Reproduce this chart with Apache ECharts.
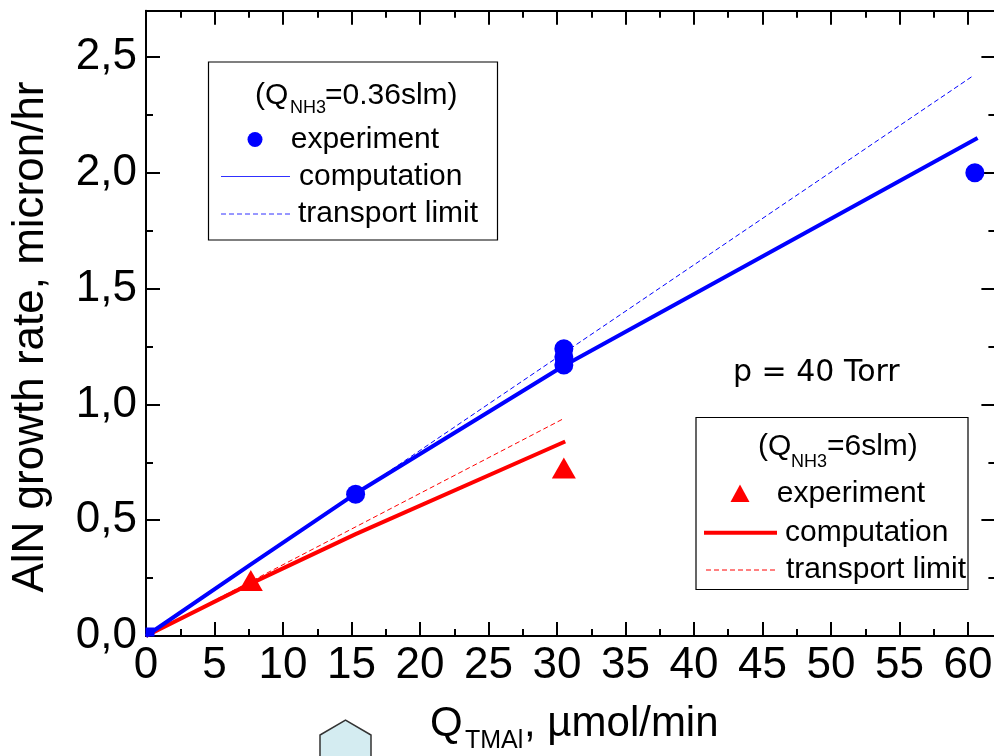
<!DOCTYPE html>
<html><head><meta charset="utf-8">
<script src="https://cdn.jsdelivr.net/npm/echarts@6/dist/echarts.min.js"></script>
<style>html,body{margin:0;padding:0;background:#fff}#c{width:994px;height:756px}</style>
</head><body><div id="c"></div><script>
// ---- data ----
const blueExpX = [0, 15.3, 30.5, 30.5, 30.5, 60.5];
const blueExpY = [0, 0.612, 1.17, 1.205, 1.24, 2.0];
const blueCompX = [0, 7.6, 15.3, 30.5, 60.7];
const blueCompY = [0, 0.307, 0.615, 1.167, 2.15];
const blueLimX = [0, 60.4];
const blueLimY = [0, 2.42];
const redExpX = [7.65, 30.5];
const redExpY = [0.24, 0.725];
const redCompX = [0, 7.6, 15.3, 30.6];
const redCompY = [0, 0.225, 0.44, 0.84];
const redLimX = [0, 30.4];
const redLimY = [0, 0.936];
const xTickStep = 5, yTickStep = 0.5;
const xMax = 62, yMax = 2.7;

const pairs = (xs, ys) => xs.map((x, i) => [x, ys[i]]);
const F = '"Liberation Sans", Arial, Helvetica, sans-serif';
const BLUE = '#0000ff', RED = '#ff0000';

function xAxisDef(pos, minor, labels) {
  return {
    type: 'value', min: 0, max: xMax, interval: minor ? xTickStep / 2 : xTickStep, position: pos,
    axisLine: { show: !minor, onZero: false, lineStyle: { color: '#000', width: 2 } },
    axisTick: { show: true, inside: true, length: minor ? 7 : 14, lineStyle: { color: '#000', width: 2 } },
    axisLabel: { show: labels, fontSize: 44, color: '#000', fontFamily: F, margin: 8, showMaxLabel: false, showMinLabel: true },
    splitLine: { show: false }, minorTick: { show: false }
  };
}
function yAxisDef(pos, minor, labels) {
  return {
    type: 'value', min: 0, max: yMax, interval: minor ? yTickStep / 2 : yTickStep, position: pos,
    axisLine: { show: !minor, onZero: false, lineStyle: { color: '#000', width: 2 } },
    axisTick: { show: true, inside: true, length: minor ? 7 : 14, lineStyle: { color: '#000', width: 2 } },
    axisLabel: { show: labels, fontSize: 44, color: '#000', fontFamily: F, margin: 9, showMaxLabel: false,
      formatter: v => v.toFixed(1).replace('.', ',') },
    splitLine: { show: false }, minorTick: { show: false }
  };
}

function txt(text, x, y, size, opts) {
  opts = opts || {};
  return {
    type: 'text', x: x, y: y, rotation: opts.rotation || 0, z: 100,
    style: { text: text, fill: '#000', fontSize: size, fontFamily: opts.family || F,
      align: opts.align || 'left', verticalAlign: 'middle',
      textAlign: opts.align || 'left', textVerticalAlign: 'middle' }
  };
}

const graphics = [
  // legend box 1
  { type: 'rect', z: 90, shape: { x: 208.5, y: 62, width: 289, height: 178 }, style: { fill: '#fff', stroke: '#000', lineWidth: 1.2 } },
  txt('(Q', 255, 96, 30), txt('NH3', 290, 108, 18), txt('=0.36slm)', 325, 96, 30),
  { type: 'circle', z: 100, shape: { cx: 255, cy: 139.5, r: 7.5 }, style: { fill: BLUE } },
  txt('experiment', 290.7, 140, 30),
  { type: 'line', z: 100, shape: { x1: 221, y1: 176.5, x2: 290, y2: 176.5 }, style: { stroke: '#3030ff', lineWidth: 1.2 } },
  txt('computation', 299, 177, 30),
  { type: 'line', z: 100, shape: { x1: 221, y1: 214, x2: 290, y2: 214 }, style: { stroke: '#3030ff', lineWidth: 1, lineDash: [5, 3] } },
  txt('transport limit', 298, 214, 30),
  // legend box 2
  { type: 'rect', z: 90, shape: { x: 696, y: 417.5, width: 272, height: 172 }, style: { fill: '#fff', stroke: '#000', lineWidth: 1.2 } },
  txt('(Q', 758, 447, 30), txt('NH3', 791, 462, 18), txt('=6slm)', 827, 447, 30),
  { type: 'polygon', z: 100, shape: { points: [[740, 484.5], [749.5, 502], [730.5, 502]] }, style: { fill: RED } },
  txt('experiment', 776.7, 494, 30),
  { type: 'line', z: 100, shape: { x1: 704, y1: 532.7, x2: 777, y2: 532.7 }, style: { stroke: RED, lineWidth: 4 } },
  txt('computation', 785, 533, 30),
  { type: 'line', z: 100, shape: { x1: 706, y1: 570, x2: 775, y2: 570 }, style: { stroke: RED, lineWidth: 1, lineDash: [5, 3] } },
  txt('transport limit', 786, 570, 30),
  // annotation
  txt('p = 40 Torr', 733, 373, 30, { family: '"DejaVu Sans", sans-serif' }),
  // axis titles
  txt('AlN growth rate, micron/hr', 31, 337, 44, { align: 'center', rotation: Math.PI / 2 }),
  txt('Q', 430, 724, 42), txt('TMAl', 465, 741, 25), txt(', \u00b5mol/min', 524, 724, 42),
  // decorative shape at the bottom edge
  { type: 'polygon', z: 100, shape: { points: [[320, 757], [320, 735], [345.5, 720], [371, 735], [371, 757]] },
    style: { fill: '#d4ecf1', stroke: '#333', lineWidth: 1.5 } }
];

// the point at the origin is mostly hidden behind the axes in the reference: draw it small, inside the corner
const blueExpData = pairs(blueExpX, blueExpY).map(p =>
  (p[0] === 0 && p[1] === 0) ? { value: p, symbol: 'rect', symbolSize: 9, symbolOffset: [4, -4] } : p);

const chart = echarts.init(document.getElementById('c'), null, { renderer: 'canvas' });
chart.setOption({
  animation: false,
  backgroundColor: '#fff',
  grid: { left: 146, top: 10.7, width: 849.4, height: 625.3, containLabel: false, outerBoundsMode: 'none' },
  xAxis: [xAxisDef('bottom', false, true), xAxisDef('bottom', true, false), xAxisDef('top', false, false), xAxisDef('top', true, false)],
  yAxis: [yAxisDef('left', false, true), yAxisDef('left', true, false), yAxisDef('right', false, false), yAxisDef('right', true, false)],
  series: [
    { name: 'transport limit (6 slm)', type: 'line', data: pairs(redLimX, redLimY), showSymbol: false, symbol: 'none',
      lineStyle: { color: RED, width: 1, type: [5, 3] }, z: 2 },
    { name: 'computation (6 slm)', type: 'line', data: pairs(redCompX, redCompY), showSymbol: false, symbol: 'none',
      lineStyle: { color: RED, width: 4 }, z: 3 },
    { name: 'computation (0.36 slm)', type: 'line', data: pairs(blueCompX, blueCompY), showSymbol: false, symbol: 'none',
      lineStyle: { color: BLUE, width: 4 }, z: 4 },
    { name: 'transport limit (0.36 slm)', type: 'line', data: pairs(blueLimX, blueLimY), showSymbol: false, symbol: 'none',
      lineStyle: { color: BLUE, width: 1, type: [5, 3] }, z: 5 },
    { name: 'experiment (6 slm)', type: 'scatter', data: pairs(redExpX, redExpY), symbol: 'triangle', symbolSize: [24, 21],
      itemStyle: { color: RED, opacity: 1 }, z: 6 },
    { name: 'experiment (0.36 slm)', type: 'scatter', data: blueExpData, symbol: 'circle', symbolSize: 19,
      itemStyle: { color: BLUE, opacity: 1 }, z: 7 }
  ],
  graphic: graphics
});
</script></body></html>
